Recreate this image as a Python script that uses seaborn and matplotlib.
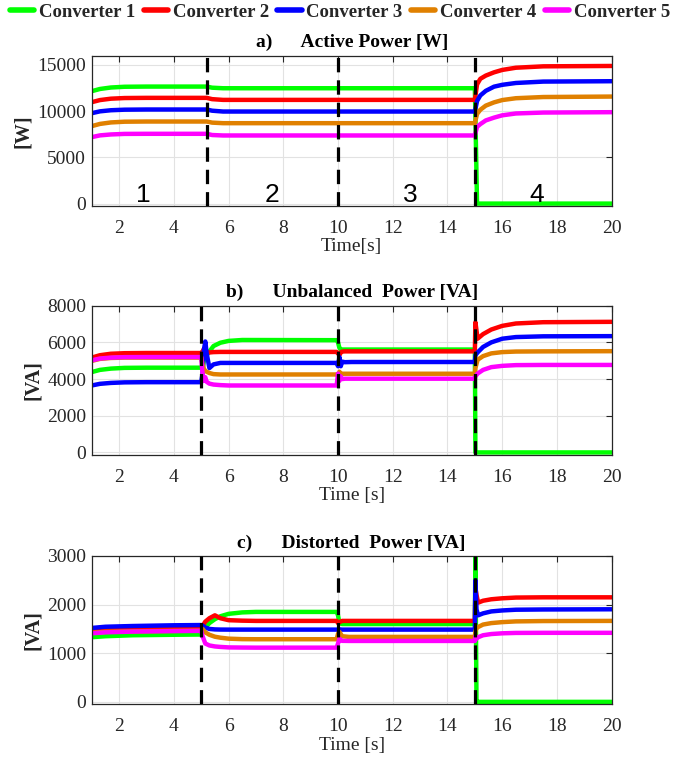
import numpy as np
import pandas as pd
import matplotlib
matplotlib.use("Agg")
import matplotlib.pyplot as plt
import seaborn as sns

# ---------------- data ----------------
converters = ["Converter 1", "Converter 2", "Converter 3", "Converter 4", "Converter 5"]
colors = ["#00FF00", "#FF0000", "#0000FF", "#E08000", "#FF00FF"]

# a) Active power [W]
a_time = [1.0, 1.3, 1.7, 2.2, 3.0, 5.2, 5.4, 5.8, 10.0, 15.0, 15.08, 15.2, 15.4, 15.7, 16.0, 16.5, 17.5, 20.0]
a_c1 = [12160, 12400, 12560, 12640, 12660, 12660, 12540, 12480, 12480, 12480, 0, 0, 0, 0, 0, 0, 0, 0]
a_c2 = [10970, 11200, 11350, 11420, 11440, 11440, 11300, 11220, 11220, 11220, 12900, 13500, 13850, 14200, 14460, 14700, 14850, 14890]
a_c3 = [9780, 9980, 10100, 10160, 10180, 10180, 10050, 9960, 9960, 9960, 11100, 11700, 12200, 12650, 12850, 13050, 13200, 13240]
a_c4 = [8380, 8620, 8780, 8860, 8880, 8880, 8760, 8700, 8700, 8700, 9700, 10150, 10600, 10950, 11200, 11400, 11530, 11580]
a_c5 = [7190, 7380, 7480, 7540, 7550, 7550, 7420, 7370, 7370, 7370, 8300, 8600, 9000, 9300, 9550, 9750, 9850, 9890]

# b) Unbalanced power [VA]
b_time = [1.0, 1.3, 1.7, 2.2, 3.0, 5.0, 5.05, 5.1, 5.15, 5.2, 5.3, 5.45, 5.7, 6.0, 6.5, 9.95,
          10.0, 10.05, 10.1, 10.15, 10.25, 10.5, 15.0, 15.02, 15.1, 15.3, 15.6, 16.0, 16.5, 17.5, 20.0]
b_c1 = [4380, 4500, 4570, 4610, 4620, 4620, 4620, 5000, 5200, 5300, 5500, 5800, 5980, 6080, 6130, 6120,
        6000, 5700, 5620, 5610, 5610, 5610, 5610, 0, 0, 0, 0, 0, 0, 0, 0]
b_c2 = [5170, 5300, 5380, 5410, 5420, 5420, 5500, 5650, 5550, 5480, 5450, 5470, 5480, 5480, 5480, 5480,
        5400, 5300, 5450, 5500, 5510, 5510, 5510, 7100, 6200, 6450, 6700, 6900, 7030, 7100, 7120]
b_c3 = [3650, 3740, 3790, 3820, 3830, 3830, 4300, 5600, 6050, 5400, 4600, 4800, 4880, 4880, 4880, 4880,
        4700, 5200, 4700, 4950, 4920, 4930, 4930, 5300, 5450, 5750, 6000, 6200, 6290, 6330, 6340]
b_c4 = [4990, 5100, 5150, 5170, 5170, 5170, 4800, 4550, 4450, 4400, 4330, 4270, 4250, 4250, 4250, 4250,
        4200, 4400, 4300, 4290, 4290, 4290, 4290, 4600, 5050, 5250, 5400, 5470, 5500, 5510, 5520]
b_c5 = [5020, 5120, 5170, 5195, 5200, 5200, 4300, 3900, 4100, 3850, 3750, 3700, 3670, 3650, 3650, 3650,
        4300, 3900, 4150, 4000, 4020, 4020, 4020, 4150, 4300, 4500, 4650, 4720, 4760, 4770, 4770]

# c) Distorted power [VA]
c_time = [1.0, 1.5, 2.5, 4.0, 5.0, 5.05, 5.15, 5.3, 5.5, 5.7, 6.0, 6.5, 7.0, 9.95,
          10.0, 10.05, 10.15, 10.4, 15.0, 15.02, 15.06, 15.12, 15.3, 15.6, 16.0, 16.5, 17.5, 20.0]
c_c1 = [1330, 1350, 1370, 1380, 1385, 1440, 1530, 1620, 1700, 1760, 1810, 1840, 1850, 1850,
        1780, 1620, 1600, 1600, 1600, 2980, 0, 0, 0, 0, 0, 0, 0, 0]
c_c2 = [1480, 1500, 1515, 1525, 1530, 1560, 1650, 1720, 1780, 1720, 1680, 1670, 1665, 1665,
        1620, 1640, 1665, 1665, 1665, 2350, 2200, 2040, 2080, 2110, 2130, 2145, 2150, 2150]
c_c3 = [1520, 1545, 1560, 1575, 1580, 1570, 1530, 1500, 1490, 1487, 1486, 1486, 1486, 1486,
        1480, 1490, 1486, 1486, 1486, 2500, 1900, 1780, 1820, 1860, 1880, 1895, 1900, 1904]
c_c4 = [1420, 1440, 1450, 1460, 1465, 1500, 1430, 1380, 1340, 1320, 1300, 1290, 1288, 1288,
        1400, 1440, 1350, 1336, 1336, 1450, 1520, 1540, 1590, 1620, 1640, 1655, 1662, 1665]
c_c5 = [1410, 1430, 1445, 1455, 1460, 1350, 1200, 1160, 1140, 1130, 1120, 1117, 1115, 1115,
        1200, 1300, 1255, 1253, 1253, 1350, 1300, 1330, 1370, 1395, 1410, 1418, 1420, 1420]

x_ticks = [2, 4, 6, 8, 10, 12, 14, 16, 18, 20]
a_yticks = [0, 5000, 10000, 15000]
b_yticks = [0, 2000, 4000, 6000, 8000]
c_yticks = [0, 1000, 2000, 3000]
a_events = [5.2, 10.0, 15.0]
b_events = [5.0, 10.0, 15.0]
c_events = [5.0, 10.0, 15.0]
region_labels = ["1", "2", "3", "4"]
region_x = [2.9, 7.6, 12.65, 17.25]


def long_df(time, series):
    frames = []
    for name, vals in zip(converters, series):
        frames.append(pd.DataFrame({"Time": time, "Power": vals, "Converter": name}))
    return pd.concat(frames, ignore_index=True)


sns.set_style("white")
plt.rcParams["font.family"] = ["Liberation Serif", "DejaVu Serif"]

fig = plt.figure(figsize=(6.73, 7.61), dpi=100)
L, W = 0.1363, 0.9089 - 0.1363
ax_a = fig.add_axes([L, 0.7293, W, 0.9268 - 0.7293])
ax_b = fig.add_axes([L, 0.4021, W, 0.5983 - 0.4021])
ax_c = fig.add_axes([L, 0.0745, W, 0.2694 - 0.0745])

panels = [
    (ax_a, long_df(a_time, [a_c1, a_c2, a_c3, a_c4, a_c5]), a_events, a_yticks, (-260, 16000),
     "a)      Active Power [W]", "[W]", "Time[s]"),
    (ax_b, long_df(b_time, [b_c1, b_c2, b_c3, b_c4, b_c5]), b_events, b_yticks, (-140, 8000),
     "b)      Unbalanced  Power [VA]", "[VA]", "Time [s]"),
    (ax_c, long_df(c_time, [c_c1, c_c2, c_c3, c_c4, c_c5]), c_events, c_yticks, (-50, 3000),
     "c)      Distorted  Power [VA]", "[VA]", "Time [s]"),
]

tick_color = "#262626"
for ax, df, events, yticks, ylim, title, ylabel, xlabel in panels:
    sns.lineplot(data=df, x="Time", y="Power", hue="Converter", hue_order=converters,
                 palette=colors, linewidth=3.2, estimator=None, sort=False,
                 legend=(ax is ax_a), ax=ax)
    for ev in events:
        ax.axvline(ev, color="black", lw=2.3, linestyle=(0, (4.5, 2.5)), zorder=5)
    ax.set_xlim(1, 20)
    ax.set_ylim(*ylim)
    ax.set_xticks(x_ticks)
    ax.set_yticks(yticks)
    ax.grid(True, color="#e2e2e2", lw=0.8)
    ax.set_axisbelow(True)
    ax.tick_params(direction="in", top=True, right=True, length=4, width=0.8,
                   labelsize=14, colors=tick_color)
    ax.tick_params(axis="x", pad=10)
    ax.tick_params(axis="y", pad=4)
    for sp in ax.spines.values():
        sp.set_color(tick_color)
        sp.set_linewidth(0.9)
    ax.set_title(title, fontsize=14, fontweight="bold", pad=6, color="black")
    ax.set_ylabel(ylabel, fontsize=14.5, fontweight="bold", labelpad=3, color=tick_color)
    ax.set_xlabel(xlabel, fontsize=14, labelpad=1, color=tick_color)

for lab, xpos in zip(region_labels, region_x):
    ax_a.text(xpos, 950, lab, fontsize=19, family=["Liberation Sans", "DejaVu Sans"],
              ha="center", va="center", color="black")

handles, labels = ax_a.get_legend_handles_labels()
ax_a.get_legend().remove()
for h in handles:
    h.set_linewidth(4)
fig.legend(handles, labels, loc="center", bbox_to_anchor=(0.505, 0.984), ncol=5,
           frameon=False, prop={"family": "Liberation Serif", "weight": "bold", "size": 13.5},
           handlelength=1.3, handletextpad=0.25, columnspacing=0.45, borderaxespad=0,
           borderpad=0)

fig.savefig("out.png", dpi=100)
